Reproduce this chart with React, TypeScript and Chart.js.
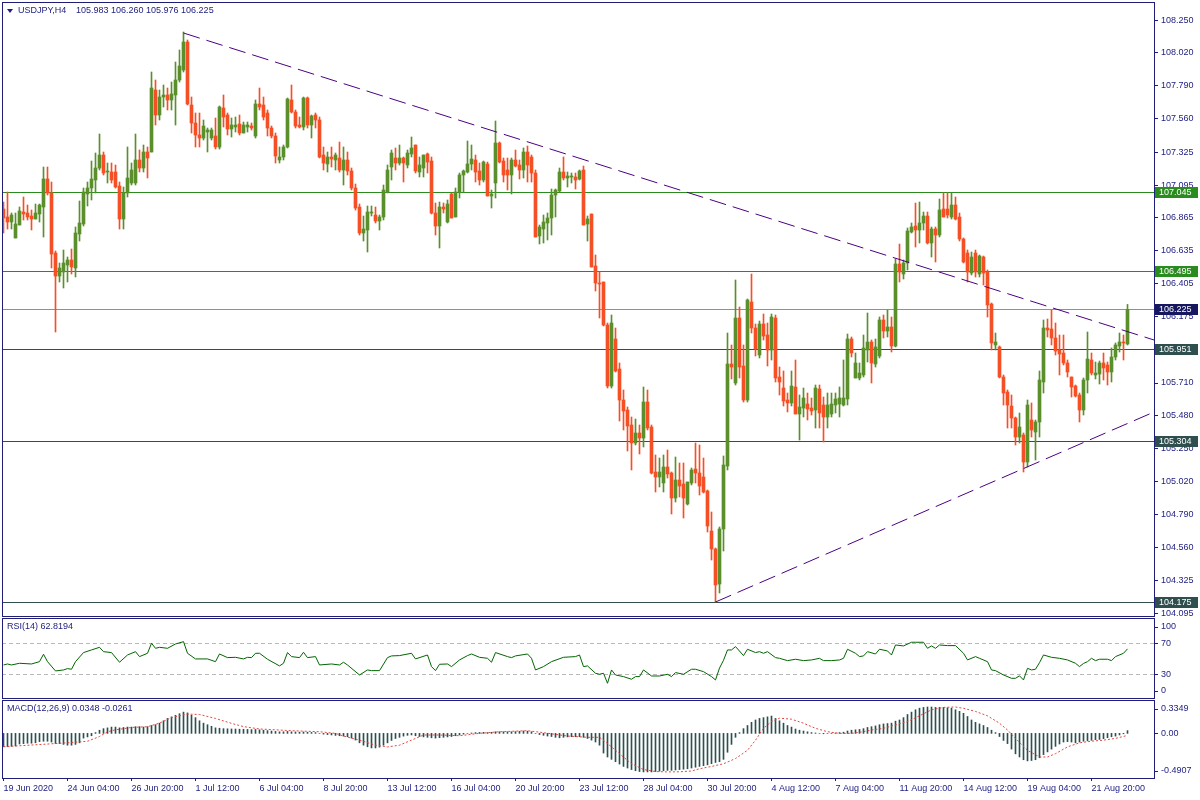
import { useEffect, useRef } from 'react';
import { Chart, registerables } from 'chart.js';

Chart.register(...registerables);

const FONT_FAMILY = '"Liberation Sans", Arial, sans-serif';
const FONT9 = '9px ' + FONT_FAMILY;
const NAVY = '#1e1e78';
const LABEL = '#1c1c80';
const GREEN = '#5a8f2b';
const RED = '#f44f25';

const symbolLabel = 'USDJPY,H4';

const opens = [
  106.928, 106.872, 106.837, 106.725, 106.816, 106.907, 106.900, 106.879, 106.858, 106.893,
  106.942, 107.138, 107.040, 106.620, 106.459, 106.487, 106.536, 106.571, 106.515, 106.753,
  106.823, 107.033, 107.075, 107.131, 107.215, 107.306, 107.187, 107.187, 107.187, 107.089,
  106.858, 107.040, 107.110, 107.110, 107.271, 107.215, 107.327, 107.327, 107.761, 107.586,
  107.712, 107.726, 107.691, 107.726, 107.831, 107.901, 108.097, 107.656, 107.530, 107.446,
  107.425, 107.467, 107.425, 107.439, 107.362, 107.635, 107.586, 107.488, 107.502, 107.523,
  107.460, 107.502, 107.509, 107.439, 107.663, 107.656, 107.600, 107.495, 107.439, 107.271,
  107.292, 107.362, 107.691, 107.607, 107.516, 107.502, 107.705, 107.516, 107.586, 107.551,
  107.306, 107.243, 107.292, 107.271, 107.285, 107.201, 107.271, 107.194, 107.075, 106.942,
  106.760, 106.781, 106.900, 106.886, 106.844, 106.872, 107.047, 107.222, 107.285, 107.250,
  107.285, 107.236, 107.313, 107.376, 107.187, 107.215, 107.313, 107.264, 106.900, 106.809,
  106.942, 106.837, 107.033, 106.872, 107.047, 107.166, 107.187, 107.243, 107.271, 107.194,
  107.131, 107.243, 107.019, 107.110, 107.390, 107.264, 107.201, 107.166, 107.271, 107.236,
  107.201, 107.327, 107.292, 107.180, 106.739, 106.788, 106.830, 106.865, 107.026, 107.054,
  107.187, 107.145, 107.152, 107.152, 107.138, 107.201, 106.823, 106.893, 106.529, 106.410,
  106.417, 106.116, 105.689, 106.018, 105.808, 105.591, 105.521, 105.416, 105.290, 105.360,
  105.325, 105.577, 105.402, 105.087, 105.052, 105.010, 105.122, 105.080, 104.905, 105.031,
  105.003, 104.863, 105.010, 105.108, 105.080, 105.052, 104.954, 104.674, 104.548, 104.303,
  104.688, 105.129, 105.843, 105.710, 106.165, 105.829, 105.591, 106.277, 106.095, 105.906,
  106.123, 106.046, 105.941, 106.165, 105.752, 105.675, 105.591, 105.570, 105.682, 105.493,
  105.535, 105.563, 105.535, 105.521, 105.668, 105.556, 105.472, 105.493, 105.556, 105.563,
  105.556, 105.598, 106.018, 105.745, 105.745, 105.766, 105.941, 105.997, 105.843, 105.899,
  106.151, 106.074, 106.102, 105.969, 106.543, 106.473, 106.550, 106.767, 106.809, 106.781,
  106.830, 106.879, 106.690, 106.788, 106.746, 106.928, 106.928, 106.872, 106.956, 106.872,
  106.718, 106.620, 106.480, 106.620, 106.473, 106.592, 106.487, 106.263, 105.976, 105.962,
  105.752, 105.647, 105.549, 105.465, 105.332, 105.346, 105.157, 105.451, 105.367, 105.437,
  105.717, 106.095, 106.088, 106.025, 105.941, 105.920, 105.850, 105.752, 105.689, 105.626,
  105.521, 105.731, 105.871, 105.766, 105.773, 105.850, 105.836, 105.787, 105.892, 105.969,
  105.997, 105.983,
];

const highs = [
  106.977, 107.047, 106.900, 106.900, 106.942, 107.012, 106.956, 106.921, 106.963, 106.963,
  107.222, 107.222, 107.117, 106.634, 106.550, 106.641, 106.592, 106.648, 106.802, 106.984,
  107.075, 107.117, 107.264, 107.320, 107.453, 107.327, 107.250, 107.250, 107.236, 107.117,
  107.082, 107.362, 107.250, 107.453, 107.341, 107.376, 107.362, 107.887, 107.831, 107.761,
  107.796, 107.775, 107.817, 107.957, 108.041, 108.167, 108.111, 107.712, 107.600, 107.600,
  107.551, 107.495, 107.495, 107.565, 107.649, 107.726, 107.600, 107.565, 107.572, 107.586,
  107.537, 107.537, 107.530, 107.691, 107.775, 107.712, 107.621, 107.509, 107.460, 107.362,
  107.376, 107.705, 107.796, 107.621, 107.572, 107.712, 107.712, 107.586, 107.600, 107.572,
  107.362, 107.327, 107.362, 107.320, 107.397, 107.362, 107.327, 107.215, 107.103, 106.963,
  106.879, 106.949, 106.949, 106.942, 106.886, 107.096, 107.236, 107.341, 107.355, 107.376,
  107.292, 107.341, 107.432, 107.376, 107.292, 107.306, 107.320, 107.292, 106.970, 106.977,
  106.970, 106.991, 107.040, 107.075, 107.180, 107.201, 107.404, 107.376, 107.306, 107.250,
  107.264, 107.257, 107.061, 107.544, 107.397, 107.285, 107.285, 107.285, 107.341, 107.271,
  107.355, 107.369, 107.306, 107.201, 106.816, 106.886, 106.900, 107.068, 107.068, 107.215,
  107.292, 107.187, 107.180, 107.180, 107.201, 107.229, 106.879, 106.893, 106.606, 106.487,
  106.417, 106.130, 106.186, 106.095, 105.850, 105.661, 105.542, 105.472, 105.458, 105.416,
  105.682, 105.661, 105.416, 105.206, 105.185, 105.206, 105.241, 105.087, 105.192, 105.150,
  105.150, 105.017, 105.115, 105.290, 105.276, 105.185, 104.961, 104.807, 104.555, 104.702,
  105.199, 106.060, 105.976, 106.431, 106.242, 105.976, 106.298, 106.473, 106.123, 106.144,
  106.193, 106.130, 106.193, 106.186, 105.822, 105.794, 105.640, 105.794, 105.871, 105.626,
  105.675, 105.640, 105.605, 105.696, 105.696, 105.612, 105.640, 105.640, 105.640, 105.682,
  105.871, 106.053, 106.032, 105.920, 105.850, 106.046, 106.200, 106.011, 106.018, 106.172,
  106.186, 106.221, 106.172, 106.578, 106.683, 106.571, 106.795, 106.830, 106.970, 106.977,
  106.907, 106.907, 106.802, 106.802, 106.998, 107.040, 107.040, 107.040, 107.012, 106.900,
  106.725, 106.641, 106.627, 106.641, 106.606, 106.599, 106.501, 106.270, 106.060, 105.969,
  105.766, 105.661, 105.626, 105.472, 105.500, 105.360, 105.591, 105.570, 105.451, 105.794,
  106.151, 106.158, 106.221, 106.130, 106.046, 106.046, 105.871, 105.752, 105.696, 105.640,
  105.745, 106.067, 105.920, 105.857, 105.864, 105.920, 105.857, 105.955, 105.990, 106.060,
  106.046, 106.260,
];

const lows = [
  106.760, 106.788, 106.788, 106.725, 106.816, 106.851, 106.851, 106.781, 106.858, 106.837,
  106.732, 107.026, 106.515, 106.067, 106.417, 106.375, 106.417, 106.473, 106.452, 106.704,
  106.809, 106.949, 106.991, 107.040, 107.201, 107.166, 107.110, 107.110, 107.075, 106.788,
  106.788, 107.012, 107.096, 107.096, 107.187, 107.187, 107.145, 107.327, 107.516, 107.551,
  107.642, 107.621, 107.621, 107.516, 107.817, 107.887, 107.656, 107.460, 107.362, 107.362,
  107.411, 107.327, 107.411, 107.348, 107.348, 107.502, 107.446, 107.432, 107.467, 107.446,
  107.460, 107.467, 107.481, 107.425, 107.621, 107.551, 107.439, 107.425, 107.250, 107.250,
  107.271, 107.355, 107.600, 107.495, 107.495, 107.481, 107.495, 107.425, 107.495, 107.285,
  107.201, 107.187, 107.222, 107.201, 107.187, 107.096, 107.166, 107.061, 106.921, 106.746,
  106.704, 106.627, 106.879, 106.830, 106.781, 106.851, 107.040, 107.131, 107.201, 107.236,
  107.117, 107.215, 107.292, 107.180, 107.152, 107.152, 107.180, 106.893, 106.746, 106.655,
  106.900, 106.830, 106.865, 106.872, 107.005, 107.047, 107.180, 107.201, 107.117, 107.096,
  107.117, 107.019, 106.935, 107.005, 107.250, 107.117, 107.061, 107.033, 107.222, 107.138,
  107.145, 107.117, 107.117, 106.732, 106.683, 106.690, 106.711, 106.746, 106.872, 107.047,
  107.131, 107.082, 107.110, 107.068, 107.131, 106.816, 106.704, 106.522, 106.354, 106.165,
  106.109, 105.675, 105.675, 105.787, 105.444, 105.381, 105.234, 105.101, 105.276, 105.213,
  105.262, 105.381, 105.073, 104.947, 104.982, 104.947, 105.045, 104.793, 104.877, 104.912,
  104.765, 104.856, 104.996, 105.010, 104.926, 104.940, 104.667, 104.471, 104.177, 104.240,
  104.534, 105.101, 105.738, 105.696, 105.745, 105.577, 105.577, 106.060, 105.899, 105.885,
  106.011, 105.829, 105.871, 105.717, 105.626, 105.549, 105.507, 105.549, 105.493, 105.311,
  105.472, 105.451, 105.486, 105.395, 105.395, 105.297, 105.395, 105.472, 105.500, 105.472,
  105.549, 105.556, 105.892, 105.745, 105.731, 105.752, 105.857, 105.710, 105.822, 105.885,
  106.025, 106.032, 105.927, 105.962, 106.417, 106.438, 106.501, 106.760, 106.662, 106.690,
  106.781, 106.683, 106.592, 106.557, 106.732, 106.872, 106.865, 106.858, 106.851, 106.704,
  106.550, 106.417, 106.466, 106.452, 106.452, 106.396, 106.172, 105.941, 105.941, 105.745,
  105.556, 105.395, 105.395, 105.276, 105.290, 105.087, 105.122, 105.332, 105.171, 105.332,
  105.640, 106.032, 105.976, 105.906, 105.766, 105.836, 105.752, 105.612, 105.612, 105.437,
  105.486, 105.640, 105.766, 105.738, 105.703, 105.731, 105.696, 105.717, 105.871, 105.927,
  105.871, 105.976,
];

const closes = [
  106.865, 106.837, 106.886, 106.823, 106.914, 106.893, 106.872, 106.858, 106.900, 106.956,
  107.138, 107.040, 106.613, 106.459, 106.515, 106.550, 106.571, 106.522, 106.760, 106.830,
  107.047, 107.075, 107.138, 107.215, 107.306, 107.180, 107.194, 107.131, 107.082, 106.858,
  107.040, 107.145, 107.201, 107.271, 107.215, 107.327, 107.285, 107.775, 107.586, 107.712,
  107.726, 107.691, 107.733, 107.831, 107.929, 108.097, 107.663, 107.530, 107.446, 107.425,
  107.509, 107.481, 107.481, 107.362, 107.642, 107.572, 107.488, 107.516, 107.516, 107.460,
  107.516, 107.516, 107.495, 107.663, 107.642, 107.572, 107.495, 107.439, 107.299, 107.292,
  107.362, 107.698, 107.607, 107.509, 107.502, 107.705, 107.516, 107.579, 107.551, 107.292,
  107.250, 107.292, 107.278, 107.306, 107.201, 107.271, 107.194, 107.075, 106.935, 106.760,
  106.788, 106.907, 106.907, 106.844, 106.872, 107.061, 107.201, 107.320, 107.250, 107.285,
  107.250, 107.320, 107.355, 107.194, 107.236, 107.306, 107.257, 106.900, 106.809, 106.942,
  106.928, 106.963, 106.865, 107.047, 107.166, 107.194, 107.243, 107.278, 107.187, 107.131,
  107.257, 107.019, 107.033, 107.390, 107.257, 107.166, 107.166, 107.271, 107.229, 107.201,
  107.327, 107.236, 107.180, 106.732, 106.802, 106.837, 106.865, 107.026, 107.061, 107.187,
  107.145, 107.159, 107.159, 107.131, 107.194, 106.816, 106.858, 106.522, 106.410, 106.403,
  106.116, 105.689, 106.130, 105.794, 105.591, 105.514, 105.409, 105.290, 105.360, 105.325,
  105.577, 105.395, 105.080, 105.052, 105.087, 105.122, 105.073, 104.905, 105.031, 104.989,
  104.905, 105.017, 105.101, 105.080, 104.989, 104.947, 104.709, 104.548, 104.296, 104.688,
  105.136, 105.843, 105.822, 106.165, 105.822, 105.591, 106.291, 106.095, 105.948, 106.123,
  106.039, 105.941, 106.172, 105.745, 105.717, 105.584, 105.570, 105.689, 105.493, 105.542,
  105.605, 105.528, 105.514, 105.675, 105.500, 105.472, 105.556, 105.563, 105.598, 105.605,
  105.605, 106.018, 105.920, 105.850, 105.780, 105.955, 105.997, 105.850, 105.962, 106.151,
  106.074, 106.102, 105.969, 106.543, 106.487, 106.550, 106.774, 106.802, 106.781, 106.830,
  106.879, 106.690, 106.788, 106.746, 106.921, 106.872, 106.886, 106.956, 106.858, 106.718,
  106.557, 106.487, 106.592, 106.487, 106.599, 106.480, 106.256, 105.990, 105.997, 105.752,
  105.640, 105.556, 105.465, 105.332, 105.402, 105.157, 105.556, 105.381, 105.437, 105.731,
  106.095, 106.081, 106.025, 105.934, 105.913, 105.850, 105.787, 105.682, 105.619, 105.521,
  105.731, 105.878, 105.780, 105.780, 105.850, 105.815, 105.787, 105.892, 105.976, 105.997,
  105.990, 106.225,
];

const timeTickIdx = [0, 16, 32, 48, 64, 80, 96, 112, 128, 144, 160, 176, 192, 208, 224, 240, 256, 272];
const timeTickLabels = [
  '19 Jun 2020', '24 Jun 04:00', '26 Jun 20:00', '1 Jul 12:00', '6 Jul 04:00', '8 Jul 20:00',
  '13 Jul 12:00', '16 Jul 04:00', '20 Jul 20:00', '23 Jul 12:00', '28 Jul 04:00', '30 Jul 20:00',
  '4 Aug 12:00', '7 Aug 04:00', '11 Aug 20:00', '14 Aug 12:00', '19 Aug 04:00', '21 Aug 20:00',
];

const priceTicks = [
  108.25, 108.02, 107.79, 107.56, 107.325, 107.095, 106.865, 106.635, 106.405, 106.175,
  105.94, 105.71, 105.48, 105.25, 105.02, 104.79, 104.56, 104.325, 104.095,
];

const levelValues = [107.045, 106.495, 106.225, 105.951, 105.304, 104.175];
const levelLineColors = ['#2a8c1e', '#2a8c1e', '#8a9199', '#2f4f4f', '#2f4f4f', '#2f4f4f'];
const levelBoxColors = ['#2a8c1e', '#2a8c1e', '#17175f', '#2f4f4f', '#2f4f4f', '#2f4f4f'];

const X_MIN = -0.375;
const X_MAX = 287.625;

const trendUpperIdx = [45, X_MAX];
const trendUpperVal = [108.16, 106.011];
const trendLowerIdx = [178, X_MAX];
const trendLowerVal = [104.177, 105.507];

const rsiIdx = [
  0, 1, 2, 4, 7, 9, 10, 11, 13, 15, 16, 17, 18, 20, 22, 24, 25, 27, 29, 31,
  33, 34, 36, 37, 38, 39, 41, 43, 45, 46, 48, 51, 53, 54, 56, 58, 60, 61, 62, 63,
  64, 66, 69, 70, 71, 72, 74, 75, 76, 78, 79, 82, 84, 85, 86, 89, 91, 92, 94, 96,
  97, 99, 102, 103, 106, 107, 108, 109, 111, 112, 114, 116, 117, 119, 121, 122, 123, 126, 127, 128,
  131, 132, 133, 135, 137, 140, 143, 144, 145, 146, 148, 149, 150, 151, 152, 153, 155, 157, 158, 159,
  160, 162, 164, 166, 167, 168, 170, 172, 173, 175, 177, 178, 179, 180, 181, 182, 183, 185, 186, 188,
  189, 190, 191, 193, 194, 196, 198, 200, 202, 204, 205, 207, 209, 210, 211, 213, 214, 215, 216, 218,
  219, 221, 222, 223, 225, 227, 228, 230, 231, 232, 233, 234, 236, 238, 240, 241, 243, 244, 246, 247,
  248, 250, 252, 253, 254, 255, 256, 257, 258, 259, 260, 262, 264, 266, 268, 269, 270, 271, 272, 273,
  274, 276, 277, 278, 280, 281,
];
const rsiVal = [
  42, 43.3, 42, 44.2, 43.3, 46.3, 55.8, 46.3, 34.3, 35.6, 37.3, 36.5, 46.3, 58, 61.4, 64.8, 59.2, 58, 45.5, 54.9,
  59.2, 52.8, 57.1, 70, 63.5, 64.8, 63.5, 69.1, 72.1, 57.1, 49.8, 49.8, 46.3, 56.2, 51.5, 51.9, 49.8, 51.9, 51.5, 57.1,
  57.1, 49.4, 40.8, 44.2, 58, 52.8, 51.5, 58.4, 51.5, 52.8, 42, 43.3, 42, 45.5, 42, 29.1, 35.6, 34.7, 34.7, 51.5,
  53.7, 54.1, 57.1, 49.8, 54.9, 39.9, 34.7, 42.9, 43.3, 39.9, 48.5, 54.1, 56.2, 51.9, 50.6, 45.5, 58, 52.8, 51.5, 53.7,
  56.2, 50.6, 35.6, 39.9, 46.3, 51.9, 52.8, 54.9, 39.9, 40.8, 31.3, 30, 31.3, 18.4, 35.6, 29.1, 27, 23.6, 27, 27,
  35.6, 27.8, 27.8, 30, 27, 32.2, 30, 36.5, 36.5, 33.4, 27, 22.7, 38, 48, 61.4, 61.4, 65.7, 54.1, 62.3, 58,
  59.2, 57.1, 59.2, 51.5, 50.6, 47.6, 49.4, 47.6, 48.5, 50.6, 47.6, 47.6, 48.5, 50.6, 62.3, 57.1, 52.8, 53.7, 59.2, 56.2,
  62.3, 60.1, 54.9, 67.8, 66.6, 71.3, 71.3, 71.3, 63.5, 66.6, 63.5, 67.8, 67, 67, 57.1, 48.5, 52.8, 50.6, 46.3, 35.6,
  34.7, 29.1, 24.8, 24.8, 28, 22.7, 37.7, 35.6, 36.5, 45, 54.9, 51.9, 50.6, 48.5, 44.2, 39.9, 44, 46.3, 50.6, 47.6,
  49.4, 49.4, 47.6, 52.8, 57.1, 62.8,
];
const rsiLast = 62.8194;
const rsiLevels = [70, 30];
const rsiTicks = [100, 70, 30, 0];
const rsiTickLabels = ['100', '70', '30', '0'];

const macdHist = [
  -0.17, -0.17, -0.165, -0.16, -0.135, -0.13, -0.125, -0.125, -0.12, -0.105,
  -0.10, -0.10, -0.11, -0.13, -0.13, -0.14, -0.15, -0.15, -0.14, -0.12,
  -0.06, -0.045, -0.03, 0.01, 0.04, 0.06, 0.07, 0.08, 0.08, 0.07,
  0.075, 0.08, 0.08, 0.085, 0.085, 0.08, 0.085, 0.10, 0.11, 0.13,
  0.16, 0.19, 0.21, 0.23, 0.25, 0.27, 0.26, 0.23, 0.20, 0.16,
  0.13, 0.11, 0.09, 0.07, 0.065, 0.06, 0.058, 0.056, 0.055, 0.053,
  0.052, 0.05, 0.048, 0.05, 0.045, 0.04, 0.035, 0.03, 0.025, 0.02,
  0.02, 0.025, 0.02, 0.018, 0.016, 0.018, 0.015, 0.012, 0.01, 0.0,
  -0.01, -0.015, -0.02, -0.026, -0.03, -0.035, -0.043, -0.06, -0.085, -0.12,
  -0.15, -0.17, -0.185, -0.185, -0.175, -0.15, -0.12, -0.09, -0.065, -0.05,
  -0.035, -0.025, -0.02, -0.03, -0.04, -0.045, -0.05, -0.056, -0.06, -0.055,
  -0.05, -0.045, -0.04, -0.03, -0.02, -0.01, 0.0, 0.005, 0.01, 0.012,
  0.013, 0.01, 0.013, 0.02, 0.02, 0.02, 0.02, 0.02, 0.022, 0.025,
  0.03, 0.028, 0.02, 0.0, -0.015, -0.025, -0.034, -0.04, -0.05, -0.056,
  -0.05, -0.045, -0.043, -0.043, -0.043, -0.05, -0.065, -0.086, -0.11, -0.15,
  -0.25, -0.30, -0.33, -0.36, -0.39, -0.42, -0.44, -0.46, -0.475, -0.485,
  -0.49, -0.49, -0.49, -0.485, -0.48, -0.475, -0.47, -0.47, -0.465, -0.46,
  -0.455, -0.45, -0.44, -0.43, -0.42, -0.41, -0.40, -0.385, -0.37, -0.36,
  -0.33, -0.24, -0.14, -0.05, 0.01, 0.06, 0.10, 0.14, 0.17, 0.19,
  0.20, 0.21, 0.22, 0.19, 0.16, 0.13, 0.10, 0.08, 0.055, 0.04,
  0.03, 0.02, 0.01, 0.005, 0.0, -0.005, 0.0, 0.003, 0.005, 0.01,
  0.015, 0.03, 0.04, 0.045, 0.05, 0.06, 0.075, 0.085, 0.095, 0.11,
  0.12, 0.125, 0.13, 0.155, 0.17, 0.20, 0.24, 0.27, 0.30, 0.32,
  0.33, 0.335, 0.335, 0.33, 0.33, 0.33, 0.325, 0.32, 0.30, 0.28,
  0.255, 0.215, 0.17, 0.14, 0.12, 0.10, 0.075, 0.04, 0.01, -0.04,
  -0.09, -0.13, -0.20, -0.26, -0.30, -0.335, -0.35, -0.345, -0.335, -0.31,
  -0.27, -0.235, -0.20, -0.165, -0.135, -0.11, -0.105, -0.11, -0.12, -0.11,
  -0.10, -0.095, -0.088, -0.08, -0.077, -0.068, -0.055, -0.043, -0.035, -0.02,
  -0.005, 0.0348,
];

const signalIdx = [
  0, 8, 16, 21, 24, 26, 28, 32, 36, 39, 42, 46, 49, 53, 57, 60, 64, 72,
  79, 83, 85, 89, 93, 96, 99, 102, 105, 109, 114, 119, 124, 131, 135, 141, 146, 149, 151, 154,
  157, 160, 163, 166, 169, 172, 174, 177, 180, 183, 186, 188, 190, 192, 194, 197, 200, 203, 206, 209,
  212, 215, 217, 220, 223, 226, 229, 232, 235, 238, 240, 243, 246, 249, 251, 253, 256, 259, 261, 263,
  266, 269, 272, 275, 278, 281,
];
const signalVal = [
  -0.17, -0.145, -0.12, -0.1, -0.04, 0.02, 0.045, 0.075, 0.085, 0.13, 0.2, 0.245, 0.24, 0.19, 0.127, 0.086, 0.056, 0.034,
  0.021, 0.0, -0.034, -0.086, -0.15, -0.172, -0.15, -0.086, -0.021, -0.021, -0.03, 0, 0.021, 0.034, 0.009, -0.034, -0.05, -0.05, -0.129, -0.258,
  -0.386, -0.46, -0.485, -0.49, -0.488, -0.478, -0.45, -0.42, -0.386, -0.32, -0.215, -0.086, 0.064, 0.15, 0.193, 0.18, 0.129, 0.064, 0.021, 0,
  0, 0.021, 0.043, 0.064, 0.107, 0.15, 0.223, 0.3, 0.33, 0.335, 0.318, 0.279, 0.223, 0.129, 0.043, -0.064, -0.215, -0.3, -0.3, -0.258,
  -0.172, -0.12, -0.099, -0.086, -0.064, -0.0261,
];
const macdLast = 0.0348;
const signalLast = -0.0261;
const macdTicks = [0.3349, 0, -0.4907];
const macdTickLabels = ['0.3349', '0.00', '-0.4907'];

function drawFrame(chart: any) {
  const { ctx, chartArea: a } = chart;
  ctx.save();
  ctx.strokeStyle = NAVY;
  ctx.lineWidth = 1;
  ctx.strokeRect(a.left + 0.5, a.top + 0.5, a.right - a.left, a.bottom - a.top);
  ctx.restore();
}

function drawSideLabels(chart: any, values: number[], labels: string[]) {
  const { ctx, chartArea: a, scales } = chart;
  const y = scales.y;
  ctx.save();
  ctx.font = FONT9;
  ctx.fillStyle = LABEL;
  ctx.strokeStyle = NAVY;
  ctx.lineWidth = 1;
  ctx.textBaseline = 'middle';
  ctx.textAlign = 'left';
  values.forEach((v, k) => {
    const py = y.getPixelForValue(v);
    const ty = Math.min(Math.max(py, a.top + 9), a.bottom - 7);
    const ry = Math.round(ty) + 0.5;
    ctx.beginPath();
    ctx.moveTo(a.right, ry);
    ctx.lineTo(a.right + 4, ry);
    ctx.stroke();
    ctx.fillText(labels[k], a.right + 7, ty);
  });
  ctx.restore();
}

function drawTitle(chart: any, text: string, yAbs: number) {
  const { ctx } = chart;
  ctx.save();
  ctx.font = FONT9;
  ctx.fillStyle = LABEL;
  ctx.textBaseline = 'middle';
  ctx.textAlign = 'left';
  ctx.fillText(text, 7, yAbs);
  ctx.restore();
}

const mainDeco = {
  id: 'mainDeco',
  beforeDatasetsDraw(chart: any) {
    const { ctx, chartArea: a, scales } = chart;
    const y = scales.y;
    ctx.save();
    ctx.lineWidth = 1;
    levelValues.forEach((v, k) => {
      const py = Math.round(y.getPixelForValue(v)) + 0.5;
      ctx.strokeStyle = levelLineColors[k];
      ctx.beginPath();
      ctx.moveTo(a.left, py);
      ctx.lineTo(a.right, py);
      ctx.stroke();
    });
    ctx.restore();
  },
  afterDraw(chart: any) {
    const { ctx, chartArea: a, scales } = chart;
    const y = scales.y;
    drawFrame(chart);
    ctx.save();
    ctx.fillStyle = NAVY;
    ctx.beginPath();
    ctx.moveTo(7, 9);
    ctx.lineTo(13, 9);
    ctx.lineTo(10, 13);
    ctx.closePath();
    ctx.fill();
    ctx.fillStyle = LABEL;
    ctx.font = FONT9;
    ctx.textBaseline = 'middle';
    ctx.textAlign = 'left';
    const n = closes.length;
    ctx.fillText(symbolLabel, 18, 11);
    const ohlc = [opens[n - 1], highs[n - 1], lows[n - 1], closes[n - 1]].map((v) => v.toFixed(3)).join(' ');
    ctx.fillText(ohlc, 76, 11);
    levelValues.forEach((v, k) => {
      const py = Math.round(y.getPixelForValue(v));
      ctx.fillStyle = levelBoxColors[k];
      ctx.fillRect(a.right + 1, py - 5, 43, 11);
      ctx.fillStyle = '#ffffff';
      ctx.fillText(v.toFixed(3), a.right + 5, py + 0.5);
    });
    ctx.restore();
  },
};

const rsiDeco = {
  id: 'rsiDeco',
  beforeDatasetsDraw(chart: any) {
    const { ctx, chartArea: a, scales } = chart;
    ctx.save();
    ctx.strokeStyle = '#b8b8b8';
    ctx.lineWidth = 1;
    ctx.setLineDash([4, 3]);
    rsiLevels.forEach((v) => {
      const py = Math.round(scales.y.getPixelForValue(v)) + 0.5;
      ctx.beginPath();
      ctx.moveTo(a.left, py);
      ctx.lineTo(a.right, py);
      ctx.stroke();
    });
    ctx.restore();
  },
  afterDraw(chart: any) {
    drawFrame(chart);
    drawTitle(chart, 'RSI(14) ' + rsiLast.toFixed(4), chart.chartArea.top + 9);
    drawSideLabels(chart, rsiTicks, rsiTickLabels);
  },
};

const macdDeco = {
  id: 'macdDeco',
  afterDraw(chart: any) {
    drawFrame(chart);
    drawTitle(chart, 'MACD(12,26,9) ' + macdLast.toFixed(4) + ' ' + signalLast.toFixed(4), chart.chartArea.top + 9);
    drawSideLabels(chart, macdTicks, macdTickLabels);
  },
};

const hiddenX = { type: 'linear', min: X_MIN, max: X_MAX, offset: false, display: false, bounds: 'data', grid: { offset: false } };

function makeMain(canvas: HTMLCanvasElement) {
  const colors = closes.map((c, i) => (c >= opens[i] ? GREEN : RED));
  const bodies = closes.map((c, i) => ({ x: i, y: [Math.min(opens[i], c), Math.max(opens[i], c)] }));
  const wicks = closes.map((c, i) => ({ x: i, y: [lows[i], highs[i]] }));
  const upper = trendUpperIdx.map((x, k) => ({ x, y: trendUpperVal[k] }));
  const lower = trendLowerIdx.map((x, k) => ({ x, y: trendLowerVal[k] }));
  const trendStyle = {
    type: 'line', borderColor: '#4b0082', borderWidth: 1, borderDash: [17, 7], pointRadius: 0,
    fill: false, tension: 0, order: 0,
  };
  return new Chart(canvas, {
    type: 'bar',
    data: {
      datasets: [
        { type: 'bar', data: bodies, backgroundColor: colors, barThickness: 3, grouped: false, minBarLength: 1, borderWidth: 0, order: 1 },
        { type: 'bar', data: wicks, backgroundColor: colors, barThickness: 1, grouped: false, minBarLength: 1, borderWidth: 0, order: 2 },
        { ...trendStyle, data: upper },
        { ...trendStyle, data: lower },
      ] as any,
    },
    options: {
      responsive: false,
      maintainAspectRatio: false,
      animation: false,
      devicePixelRatio: 1,
      events: [],
      layout: { padding: { left: 2, top: 2, bottom: 2, right: 0 } },
      plugins: { legend: { display: false }, tooltip: { enabled: false } },
      scales: {
        x: hiddenX,
        y: {
          type: 'linear',
          position: 'right',
          min: 104.079,
          max: 108.377,
          bounds: 'data',
          beginAtZero: false,
          afterBuildTicks: (s: any) => { s.ticks = priceTicks.map((v) => ({ value: v })); },
          afterFit: (s: any) => { s.width = 46; s.paddingTop = 0; s.paddingBottom = 0; },
          ticks: {
            autoSkip: false,
            color: LABEL,
            padding: 3,
            font: { family: FONT_FAMILY, size: 9 },
            callback: (v: any) => Number(v).toFixed(3),
          },
          grid: { drawOnChartArea: false, drawTicks: true, tickLength: 4, color: NAVY },
          border: { display: false },
        },
      },
    } as any,
    plugins: [mainDeco],
  });
}

function makeRsi(canvas: HTMLCanvasElement) {
  const pts = rsiIdx.map((x, k) => ({ x, y: rsiVal[k] }));
  return new Chart(canvas, {
    type: 'line',
    data: {
      datasets: [
        { data: pts, borderColor: '#006400', borderWidth: 1, pointRadius: 0, fill: false, tension: 0 },
      ] as any,
    },
    options: {
      responsive: false,
      maintainAspectRatio: false,
      animation: false,
      devicePixelRatio: 1,
      events: [],
      layout: { padding: { left: 2, top: 8, bottom: 8, right: 46 } },
      plugins: { legend: { display: false }, tooltip: { enabled: false } },
      scales: {
        x: hiddenX,
        y: { type: 'linear', min: -0.6, max: 102.6, display: false, bounds: 'data' },
      },
    } as any,
    plugins: [rsiDeco],
  });
}

function makeMacd(canvas: HTMLCanvasElement) {
  const hist = macdHist.map((v, i) => ({ x: i, y: v }));
  const sig = signalIdx.map((x, k) => ({ x, y: signalVal[k] }));
  return new Chart(canvas, {
    type: 'bar',
    data: {
      datasets: [
        { type: 'line', data: sig, borderColor: '#e2473f', borderWidth: 1, borderDash: [2, 2], pointRadius: 0, fill: false, tension: 0, order: 0 },
        { type: 'bar', data: hist, backgroundColor: '#2f4f4f', barThickness: 1, grouped: false, borderWidth: 0, order: 1 },
      ] as any,
    },
    options: {
      responsive: false,
      maintainAspectRatio: false,
      animation: false,
      devicePixelRatio: 1,
      events: [],
      layout: { padding: { left: 2, top: 8, bottom: 0, right: 46 } },
      plugins: { legend: { display: false }, tooltip: { enabled: false } },
      scales: {
        x: {
          type: 'linear',
          position: 'bottom',
          min: X_MIN,
          max: X_MAX,
          offset: false,
          bounds: 'data',
          afterBuildTicks: (s: any) => { s.ticks = timeTickIdx.map((v) => ({ value: v })); },
          afterFit: (s: any) => { s.height = 22; s.paddingLeft = 0; s.paddingRight = 0; },
          ticks: {
            autoSkip: false,
            maxRotation: 0,
            minRotation: 0,
            align: 'start',
            padding: 2,
            color: LABEL,
            font: { family: FONT_FAMILY, size: 9 },
            callback: (_v: any, i: number) => timeTickLabels[i],
          },
          grid: { drawOnChartArea: false, drawTicks: true, tickLength: 3, color: NAVY, offset: false },
          border: { display: false },
        },
        y: { type: 'linear', min: -0.567, max: 0.424, display: false, bounds: 'data', beginAtZero: false },
      },
    } as any,
    plugins: [macdDeco],
  });
}

export default function App() {
  const mainRef = useRef<HTMLCanvasElement>(null);
  const rsiRef = useRef<HTMLCanvasElement>(null);
  const macdRef = useRef<HTMLCanvasElement>(null);

  useEffect(() => {
    const charts = [
      makeMain(mainRef.current as HTMLCanvasElement),
      makeRsi(rsiRef.current as HTMLCanvasElement),
      makeMacd(macdRef.current as HTMLCanvasElement),
    ];
    return () => charts.forEach((c) => c.destroy());
  }, []);

  return (
    <div style={{ position: 'fixed', left: 0, top: 0, width: 1200, height: 800, background: '#ffffff', overflow: 'hidden' }}>
      <canvas ref={mainRef} width={1200} height={618} style={{ position: 'absolute', left: 0, top: 0, width: 1200, height: 618 }} />
      <canvas ref={rsiRef} width={1200} height={96} style={{ position: 'absolute', left: 0, top: 610, width: 1200, height: 96 }} />
      <canvas ref={macdRef} width={1200} height={108} style={{ position: 'absolute', left: 0, top: 692, width: 1200, height: 108 }} />
    </div>
  );
}
